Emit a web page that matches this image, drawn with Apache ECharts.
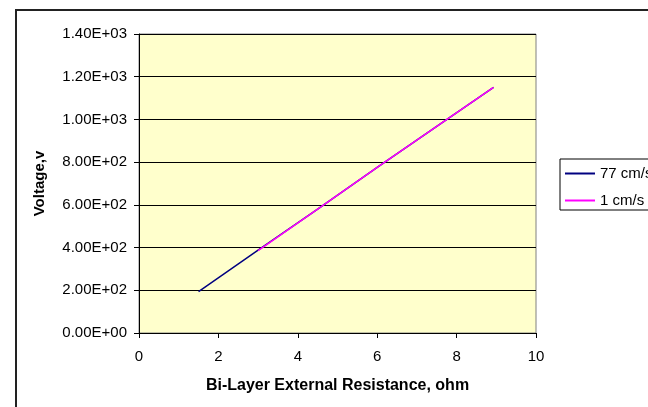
<!DOCTYPE html>
<html>
<head>
<meta charset="utf-8">
<script src="https://cdn.jsdelivr.net/npm/echarts@6/dist/echarts.min.js"></script>
<style>html,body{margin:0;padding:0;background:#fff;}#c{width:648px;height:407px;}</style>
</head>
<body>
<div id="c"></div>
<script>
var seriesNames = ['77 cm/s', '1 cm/s'];
var resistance77 = [1.5, 3.0, 4.5, 6.0, 7.5, 8.93];
var voltage77 = [194, 388, 580, 775, 968, 1150];
var resistance1 = [3.0, 4.5, 6.0, 7.5, 8.93];
var voltage1 = [386, 580, 775, 968, 1150];
var yTicks = [0, 200, 400, 600, 800, 1000, 1200, 1400];
var xTicks = [0, 2, 4, 6, 8, 10];

function pairs(xs, ys) { return xs.map(function (x, i) { return [x, ys[i]]; }); }
function sci(v) {
  if (v === 0) return '0.00E+00';
  var e = Math.floor(Math.log10(Math.abs(v)));
  var m = v / Math.pow(10, e);
  return m.toFixed(2) + 'E' + (e >= 0 ? '+' : '-') + (Math.abs(e) < 10 ? '0' : '') + Math.abs(e);
}

var FONT = '"Liberation Sans", Arial, sans-serif';
var chart = echarts.init(document.getElementById('c'), null, {renderer: 'canvas'});
chart.setOption({
  animation: false,
  backgroundColor: '#ffffff',
  textStyle: {fontFamily: FONT},
  graphic: [{
    type: 'rect', left: 15, top: 9, z: -10,
    shape: {width: 700, height: 500},
    style: {fill: '#ffffff', stroke: '#222222', lineWidth: 2}
  }],
  grid: {
    left: 139, top: 34, right: 112, bottom: 74,
    show: true, backgroundColor: '#FFFFCC', borderColor: '#808080', borderWidth: 1
  },
  legend: {
    orient: 'vertical', left: 560, top: 159,
    padding: [7, 60, 2, 5], itemGap: 12,
    itemWidth: 30, itemHeight: 2, icon: 'rect',
    backgroundColor: '#ffffff', borderColor: '#000000', borderWidth: 1,
    textStyle: {fontSize: 15, color: '#000', fontFamily: FONT},
    data: seriesNames
  },
  xAxis: {
    type: 'value', min: xTicks[0], max: xTicks[xTicks.length - 1], interval: 2,
    name: 'Bi-Layer External Resistance, ohm', nameLocation: 'middle', nameGap: 45,
    nameTextStyle: {fontSize: 16, fontWeight: 'bold', color: '#000', fontFamily: FONT},
    axisLine: {show: true, onZero: false, lineStyle: {color: '#000', width: 1}},
    axisTick: {show: true, length: 5, lineStyle: {color: '#000'}},
    axisLabel: {fontSize: 15, color: '#000', margin: 16, fontFamily: FONT},
    splitLine: {show: false}
  },
  yAxis: {
    type: 'value', min: yTicks[0], max: yTicks[yTicks.length - 1], interval: 200,
    name: 'Voltage,v', nameLocation: 'middle', nameGap: 92,
    nameTextStyle: {fontSize: 15, fontWeight: 'bold', color: '#000', fontFamily: FONT},
    axisLine: {show: true, lineStyle: {color: '#000', width: 1}},
    axisTick: {show: true, length: 5, lineStyle: {color: '#000'}},
    axisLabel: {fontSize: 15, color: '#000', margin: 12, fontFamily: FONT, formatter: sci},
    splitLine: {show: true, lineStyle: {color: '#000', width: 1}}
  },
  series: [
    {name: seriesNames[0], type: 'line', data: pairs(resistance77, voltage77),
     symbol: 'none', color: '#000080', lineStyle: {color: '#000080', width: 1.5}},
    {name: seriesNames[1], type: 'line', data: pairs(resistance1, voltage1),
     symbol: 'none', color: '#FF00FF', lineStyle: {color: '#FF00FF', width: 1.5}}
  ]
});
</script>
</body>
</html>
